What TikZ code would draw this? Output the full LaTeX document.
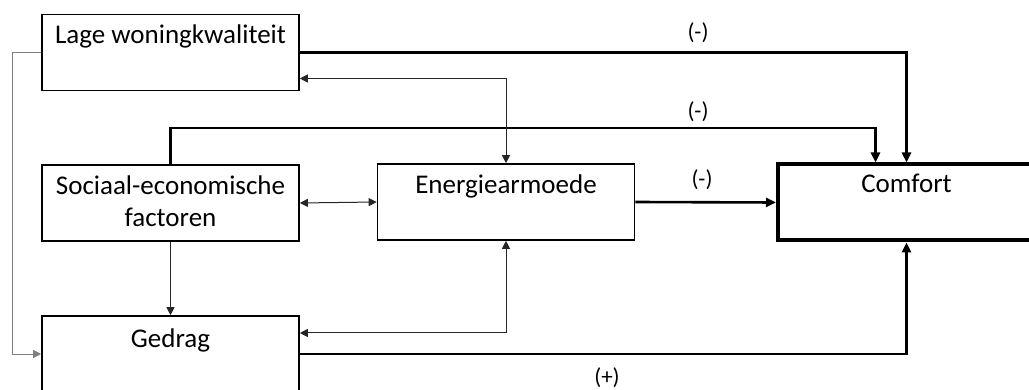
\documentclass[tikz,border=0pt]{standalone}
\usepackage{fontspec}
\setmainfont{Carlito}
\usetikzlibrary{positioning, calc}
\usetikzlibrary{arrows.meta}
\tikzset{bx/.style={draw, line width=1.6pt, minimum width=257pt, minimum height=76pt, inner sep=0pt}}
\tikzset{ma/.style={->, >={Triangle[length=8pt,width=8pt]}, line width=1pt, draw=black!85}}
\tikzset{mb/.style={->, >={Triangle[length=10pt,width=9pt]}, line width=2.6pt}}

\begin{document}
\begin{tikzpicture}[x=1pt, y=-1pt]
\tikzset{
  txt/.style={anchor=base, align=center, font=\fontsize{27}{32}\selectfont},
  sg/.style={font=\fontsize{23}{28}\selectfont},
}
\useasboundingbox (0,0) rectangle (1029,390);

\node [bx] (lage) at (170.5, 52.5) {};
\node [txt] (lagetxt) at ([yshift=-30pt]lage.north) {Lage woningkwaliteit};
\node [bx] (soc) at (170.5, 203) {};
\node [txt] (soctxt) at ([yshift=-62pt]soc.north) {Sociaal-economische\\factoren};
\node [bx] (gedrag) at (170.5, 354) {};
\node [txt] (gedragtxt) at ([yshift=-32pt]gedrag.north) {Gedrag};
\node [bx] (energie) at (506, 202) {};
\node [txt] (energietxt) at ([yshift=-30pt]energie.north) {Energiearmoede};
\node [bx, line width=4pt] (comfort) at (906.5, 202.5) {};
\node [txt] (comforttxt) at ([yshift=-30pt]comfort.north) {Comfort};

\coordinate (lk) at (12, 52.5);

% naar comfort
\draw[mb] (lage.east) -| (comfort.north);
\draw[mb] (soc.north) -- (soc.north |- 0,128) -| ([xshift=-31pt]comfort.north);
\draw[mb] (energie.east) -- (comfort.west);
\draw[mb] (gedrag.east) -| (comfort.south);

% onderlinge relaties
\draw[ma, <->] ([yshift=-26pt]lage.east) -| (energie.north);
\draw[ma, <->] (soc.east) -- (energie.west);
\draw[ma, <->] (energie.south) |- ([yshift=21pt]gedrag.east);
\draw[ma] (soc.south) -- (gedrag.north);
\draw[ma, draw=gray] (lage.west) -- (lk) |- (gedrag.west);

\node [sg] (l1) at (698, 33) {(-)};
\node [sg] (l2) at (698, 112) {(-)};
\node [sg] (l3) at (702, 180) {(-)};
\node [sg] (l4) at (607, 378) {(+)};
\end{tikzpicture}
\end{document}
